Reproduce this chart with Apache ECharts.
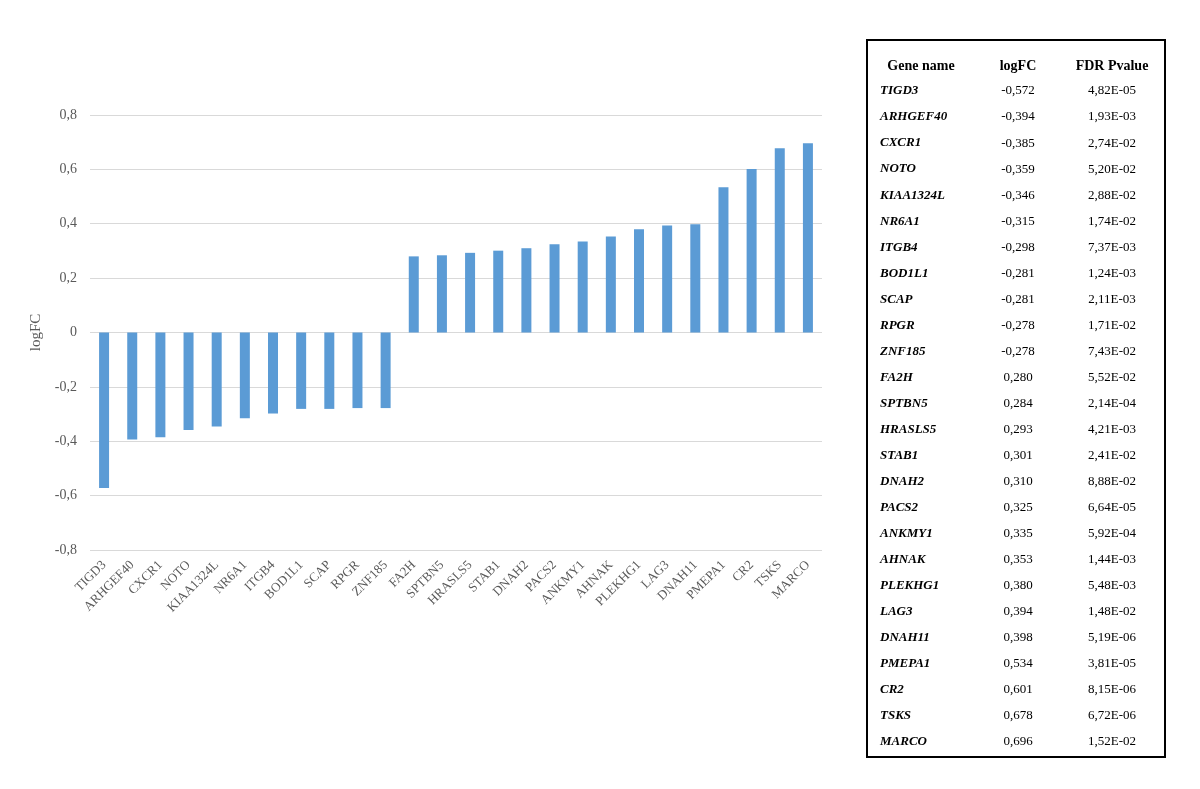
<!DOCTYPE html>
<html>
<head>
<meta charset="utf-8">
<script src="https://cdn.jsdelivr.net/npm/echarts@6/dist/echarts.min.js"></script>
<style>
html,body{margin:0;padding:0;background:#fff;}
#chart{width:1200px;height:789px;}
</style>
</head>
<body>
<div id="chart"></div>
<script>
const genes = ["TIGD3","ARHGEF40","CXCR1","NOTO","KIAA1324L","NR6A1","ITGB4","BOD1L1","SCAP","RPGR","ZNF185","FA2H","SPTBN5","HRASLS5","STAB1","DNAH2","PACS2","ANKMY1","AHNAK","PLEKHG1","LAG3","DNAH11","PMEPA1","CR2","TSKS","MARCO"];
const logFC = [-0.572,-0.394,-0.385,-0.359,-0.346,-0.315,-0.298,-0.281,-0.281,-0.278,-0.278,0.280,0.284,0.293,0.301,0.310,0.325,0.335,0.353,0.380,0.394,0.398,0.534,0.601,0.678,0.696];
const fdr = ["4,82E-05","1,93E-03","2,74E-02","5,20E-02","2,88E-02","1,74E-02","7,37E-03","1,24E-03","2,11E-03","1,71E-02","7,43E-02","5,52E-02","2,14E-04","4,21E-03","2,41E-02","8,88E-02","6,64E-05","5,92E-04","1,44E-03","5,48E-03","1,48E-02","5,19E-06","3,81E-05","8,15E-06","6,72E-06","1,52E-02"];
const tableHeaders = ["Gene name","logFC","FDR Pvalue"];

const serif = "'Liberation Serif','Times New Roman',serif";
const fmt = v => v.toFixed(3).replace('.', ',');

const graphics = [];
// table frame
graphics.push({type:'rect', shape:{x:867,y:40,width:298,height:717}, style:{fill:'#fff', stroke:'#000', lineWidth:2}, z:10});
const colX = [921, 1018, 1112];
tableHeaders.forEach((h,i)=>{
  graphics.push({type:'text', x:colX[i], y:66, z:11, style:{text:h, font:"bold 14px "+serif, fill:'#000', textAlign:'center', textVerticalAlign:'middle'}});
});
genes.forEach((g,i)=>{
  const y = 91 + i*26.04;
  graphics.push({type:'text', x:880, y:y, z:11, style:{text:g, font:"italic bold 13px "+serif, fill:'#000', textAlign:'left', textVerticalAlign:'middle'}});
  graphics.push({type:'text', x:colX[1], y:y, z:11, style:{text:fmt(logFC[i]), font:"13px "+serif, fill:'#000', textAlign:'center', textVerticalAlign:'middle'}});
  graphics.push({type:'text', x:colX[2], y:y, z:11, style:{text:fdr[i], font:"13px "+serif, fill:'#000', textAlign:'center', textVerticalAlign:'middle'}});
});

const chart = echarts.init(document.getElementById('chart'));
chart.setOption({
  backgroundColor:'#fff',
  animation:false,
  grid:{left:90, right:378, top:115, bottom:239},
  xAxis:{
    type:'category', data:genes,
    axisLine:{show:false, onZero:false},
    axisTick:{show:false},
    axisLabel:{rotate:45, interval:0, margin:13, color:'#595959', fontFamily:serif, fontSize:13}
  },
  yAxis:{
    type:'value', min:-0.8, max:0.8, interval:0.2,
    name:'logFC', nameLocation:'middle', nameGap:44, nameRotate:90,
    nameTextStyle:{color:'#595959', fontFamily:serif, fontSize:15},
    axisLine:{show:false}, axisTick:{show:false},
    axisLabel:{color:'#595959', fontFamily:serif, fontSize:14, margin:13,
      formatter:v=>{const r=Math.round(v*10)/10; return r===0?'0':r.toFixed(1).replace('.',',');}},
    splitLine:{lineStyle:{color:'#d9d9d9', width:1}}
  },
  series:[{type:'bar', data:logFC, barWidth:10, itemStyle:{color:'#5B9BD5'}}],
  graphic:graphics
});
</script>
</body>
</html>
